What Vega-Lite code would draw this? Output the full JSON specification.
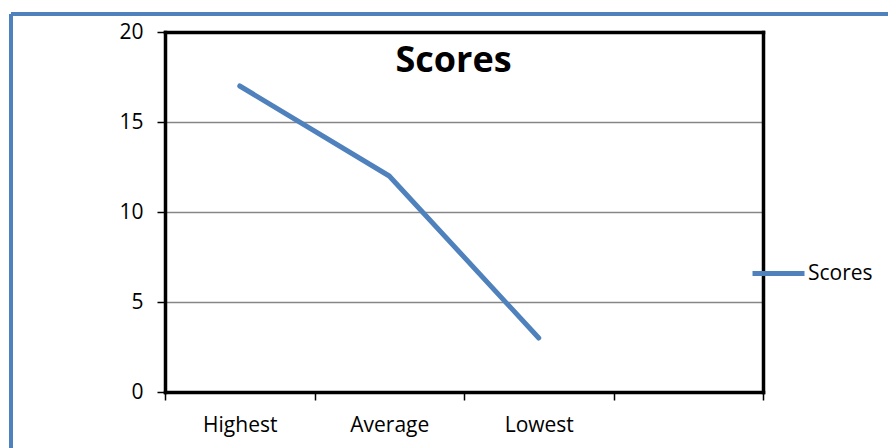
{
  "$schema": "https://vega.github.io/schema/vega-lite/v6.json",
  "width": 877,
  "height": 434,
  "autosize": {"type": "none"},
  "padding": {"left": 11, "top": 14, "right": 0, "bottom": 0},
  "background": "white",
  "config": {
    "view": {"stroke": "#4F81BD", "strokeWidth": 4, "strokeDash": [877, 1311, 434, 0]},
    "font": "Open Sans",
    "axis": {"labelFont": "Open Sans", "labelColor": "black", "labelFontSize": 21, "title": null, "domainColor": "black", "domainWidth": 3.5, "tickColor": "black"}
  },
  "title": {"text": "Scores", "orient": "top", "anchor": "middle", "offset": -56, "dy": 38, "baseline": "alphabetic", "fontSize": 36, "fontWeight": "bold", "font": "Open Sans", "color": "black", "dx": 4},
  "data": {"values": [
    {"cat": "Highest", "score": 17, "series": "Scores"},
    {"cat": "Average", "score": 12, "series": "Scores"},
    {"cat": "Lowest", "score": 3, "series": "Scores"}
  ]},
  "layer": [
    {
      "mark": {"type": "line", "strokeWidth": 5, "strokeCap": "round", "strokeJoin": "round"},
      "encoding": {
        "x": {"field": "cat", "type": "nominal", "sort": null,
          "scale": {"type": "band", "domain": ["Highest", "Average", "Lowest", " "], "range": [154, 752], "paddingInner": 0, "paddingOuter": 0},
          "axis": {"orient": "bottom", "offset": -56, "tickBand": "extent", "tickSize": 8, "tickWidth": 1.5, "labelAngle": 0, "labelPadding": 14, "grid": false, "domainCap": "square"}},
        "y": {"field": "score", "type": "quantitative",
          "scale": {"domain": [0, 20], "range": [378, 18], "nice": false, "zero": true},
          "axis": {"orient": "left", "offset": -154, "values": [0, 5, 10, 15, 20], "tickSize": 8, "tickWidth": 1.5, "labelPadding": 14, "grid": true, "gridColor": "#868686", "gridWidth": 1.3, "domainCap": "square"}},
        "color": {"field": "series", "type": "nominal",
          "scale": {"range": ["#4F81BD"]},
          "legend": {"title": null, "orient": "none", "legendX": 739, "legendY": 231, "symbolType": "stroke", "symbolSize": 2704, "symbolStrokeWidth": 5, "labelFontSize": 21, "labelFont": "Open Sans", "labelColor": "black", "labelOffset": 1, "padding": 0}}
      }
    },
    {
      "mark": {"type": "point", "opacity": 0},
      "encoding": {
        "x": {"field": "cat", "type": "nominal", "sort": null,
          "axis": {"orient": "top", "offset": -18, "ticks": false, "labels": false, "grid": false, "domainCap": "square"}},
        "y": {"field": "score", "type": "quantitative",
          "axis": {"orient": "right", "offset": -125, "ticks": false, "labels": false, "grid": false, "domainCap": "square"}}
      }
    }
  ],
  "resolve": {"axis": {"x": "independent", "y": "independent"}}
}
